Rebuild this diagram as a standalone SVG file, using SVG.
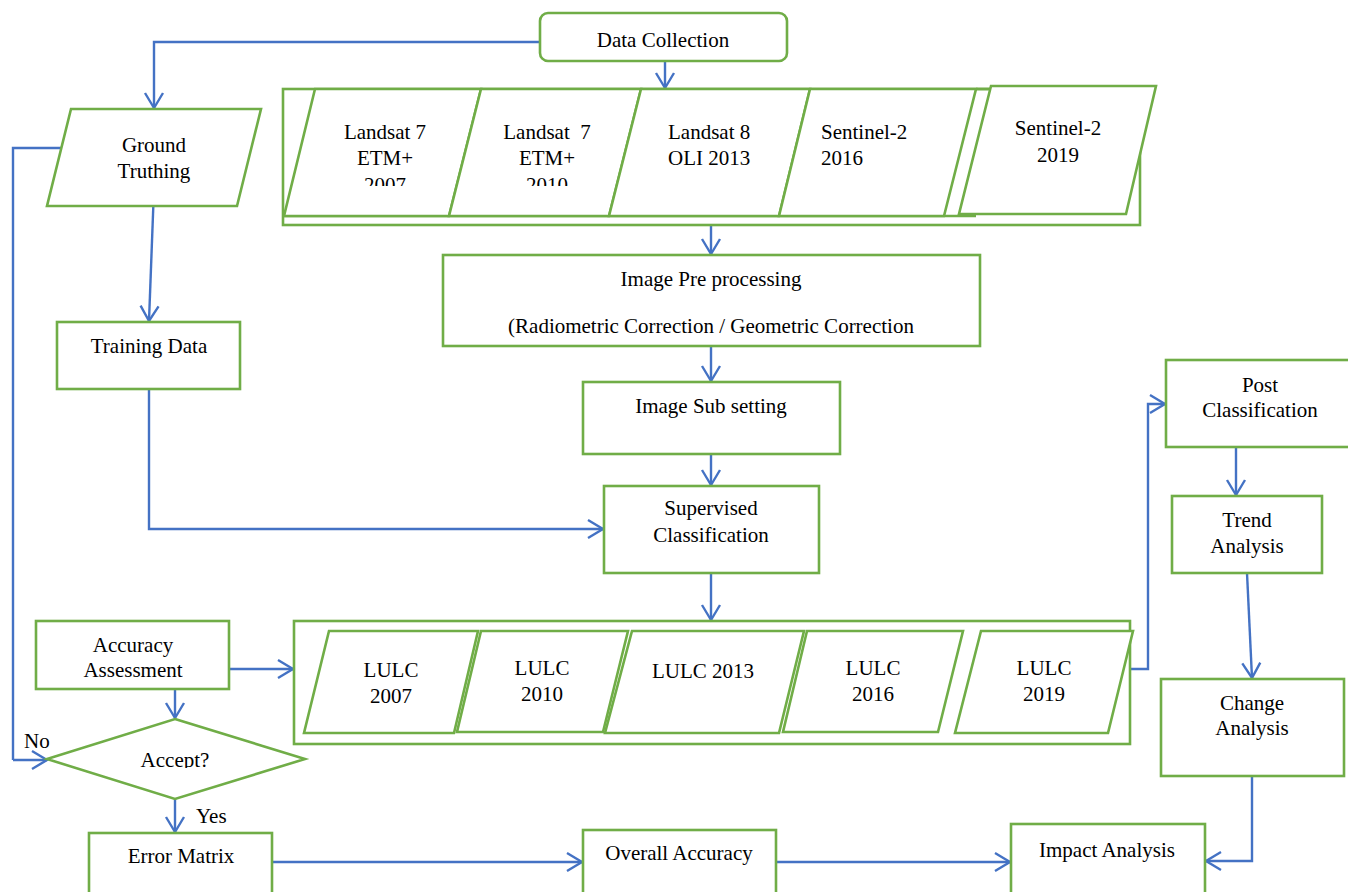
<svg xmlns="http://www.w3.org/2000/svg" width="1348" height="892" viewBox="0 0 1348 892">
<style>
.n{fill:#fff;stroke:#70AD47;stroke-width:2.6}
.g{fill:none;stroke:#70AD47;stroke-width:2.6}
.c{fill:none;stroke:#4472C4;stroke-width:2.4}
.ca{fill:none;stroke:#4472C4;stroke-width:2.4;marker-end:url(#ah)}
text{font-family:"Liberation Serif","Times New Roman",serif;font-size:21px;fill:#000}
.m{text-anchor:middle}
</style>
<defs>
<marker id="ah" markerUnits="userSpaceOnUse" markerWidth="24" markerHeight="24" viewBox="0 0 24 24" refX="19" refY="12" orient="auto">
<path d="M4,3 L19,12 L4,21" fill="none" stroke="#4472C4" stroke-width="2.4"/>
</marker>
<clipPath id="clipL"><rect x="280" y="95" width="380" height="91"/></clipPath>
<clipPath id="clipA"><rect x="40" y="715" width="270" height="53"/></clipPath>
</defs>
<rect width="1348" height="892" fill="#fff"/>

<g id="connectors">
<path class="ca" d="M540,42 H154 V108"/>
<path class="ca" d="M665,61 V88"/>
<path class="c" d="M61,148 H13 V760"/>
<path class="ca" d="M13,760 H47"/>
<path class="ca" d="M154,188 L149,321"/>
<path class="ca" d="M149,389 V529 H603"/>
<path class="ca" d="M711,226 V254"/>
<path class="ca" d="M711,346 V381"/>
<path class="ca" d="M711,454 V485"/>
<path class="ca" d="M711,573 V620"/>
<path class="ca" d="M229,669 H293"/>
<path class="ca" d="M175,689 V718"/>
<path class="ca" d="M175,799 V832"/>
<path class="ca" d="M272,862 H582"/>
<path class="ca" d="M776,862 H1010"/>
<path class="ca" d="M1130,669 H1148 V404 H1165"/>
<path class="ca" d="M1236,447 V495"/>
<path class="ca" d="M1247,573 L1252,678"/>
<path class="ca" d="M1252,776 V861 H1206"/>
</g>

<g id="data-collection">
<rect class="n" x="540" y="13" width="247" height="48" rx="8"/>
<text class="m" x="663" y="47">Data Collection</text>
</g>

<g id="satellite-images">
<rect class="g" x="283" y="89" width="857" height="136"/>
<line class="g" x1="283" y1="216" x2="976" y2="216"/>
<g id="landsat7-2007">
<polygon class="n" points="315,89 481,89 449,216 284,216"/>
<g clip-path="url(#clipL)">
<text class="m" x="385" y="139">Landsat 7</text>
<text class="m" x="385" y="165">ETM+</text>
<text class="m" x="385" y="192">2007</text>
</g>
</g>
<g id="landsat7-2010">
<polygon class="n" points="481,89 641,89 609,216 449,216"/>
<g clip-path="url(#clipL)">
<text class="m" x="547" y="139" xml:space="preserve">Landsat  7</text>
<text class="m" x="547" y="165">ETM+</text>
<text class="m" x="547" y="192">2010</text>
</g>
</g>
<g id="landsat8-2013">
<polygon class="n" points="641,89 810,89 779,216 609,216"/>
<text x="668" y="139">Landsat 8</text>
<text x="668" y="165">OLI 2013</text>
</g>
<g id="sentinel2-2016">
<polygon class="n" points="810,89 976,89 944,216 779,216"/>
<text x="821" y="139">Sentinel-2</text>
<text x="821" y="165">2016</text>
</g>
<line class="g" x1="976" y1="89" x2="992" y2="89"/>
<g id="sentinel2-2019">
<polygon class="n" points="991,86 1156,86 1126,214 959,214"/>
<text class="m" x="1058" y="135">Sentinel-2</text>
<text class="m" x="1058" y="162">2019</text>
</g>
</g>

<g id="ground-truthing">
<polygon class="n" points="71,109 261,109 237,206 47,206"/>
<text class="m" x="154" y="152">Ground</text>
<text class="m" x="154" y="178">Truthing</text>
</g>

<g id="training-data">
<rect class="n" x="57" y="322" width="183" height="67"/>
<text class="m" x="149" y="353">Training Data</text>
</g>

<g id="image-preprocessing">
<rect class="n" x="443" y="255" width="537" height="91"/>
<text class="m" x="711" y="286">Image Pre processing</text>
<text class="m" x="711" y="333">(Radiometric Correction / Geometric Correction</text>
</g>

<g id="image-subsetting">
<rect class="n" x="583" y="382" width="257" height="72"/>
<text class="m" x="711" y="413">Image Sub setting</text>
</g>

<g id="supervised-classification">
<rect class="n" x="604" y="486" width="215" height="87"/>
<text class="m" x="711" y="515">Supervised</text>
<text class="m" x="711" y="542">Classification</text>
</g>

<g id="lulc-maps">
<rect class="g" x="294" y="621" width="836" height="123"/>
<g id="lulc-2007">
<polygon class="n" points="329,631 478,631 454,733 304,733"/>
<text class="m" x="391" y="677">LULC</text>
<text class="m" x="391" y="703">2007</text>
</g>
<g id="lulc-2010">
<polygon class="n" points="481,631 628,631 603,732 457,732"/>
<text class="m" x="542" y="675">LULC</text>
<text class="m" x="542" y="701">2010</text>
</g>
<g id="lulc-2013">
<polygon class="n" points="632,631 804,631 779,733 605,733"/>
<text class="m" x="703" y="678">LULC 2013</text>
</g>
<g id="lulc-2016">
<polygon class="n" points="807,631 963,631 938,732 783,732"/>
<text class="m" x="873" y="675">LULC</text>
<text class="m" x="873" y="701">2016</text>
</g>
<g id="lulc-2019">
<polygon class="n" points="981,631 1133,631 1108,733 955,733"/>
<text class="m" x="1044" y="675">LULC</text>
<text class="m" x="1044" y="701">2019</text>
</g>
</g>

<g id="accuracy-assessment">
<rect class="n" x="36" y="621" width="193" height="68"/>
<text class="m" x="133" y="652">Accuracy</text>
<text class="m" x="133" y="677">Assessment</text>
</g>

<g id="accept">
<polygon class="n" points="175,719 305,759 175,799 47,759"/>
<text class="m" x="175" y="767" clip-path="url(#clipA)">Accept?</text>
</g>
<text x="24" y="748">No</text>
<text x="196" y="823">Yes</text>

<g id="error-matrix">
<rect class="n" x="89" y="833" width="183" height="62"/>
<text class="m" x="181" y="863">Error Matrix</text>
</g>

<g id="overall-accuracy">
<rect class="n" x="583" y="830" width="193" height="65"/>
<text class="m" x="679" y="860">Overall Accuracy</text>
</g>

<g id="impact-analysis">
<rect class="n" x="1011" y="824" width="194" height="71"/>
<text class="m" x="1107" y="857">Impact Analysis</text>
</g>

<g id="post-classification">
<rect class="n" x="1166" y="360" width="190" height="87"/>
<text class="m" x="1260" y="392">Post</text>
<text class="m" x="1260" y="417">Classification</text>
</g>

<g id="trend-analysis">
<rect class="n" x="1172" y="496" width="150" height="77"/>
<text class="m" x="1247" y="527">Trend</text>
<text class="m" x="1247" y="553">Analysis</text>
</g>

<g id="change-analysis">
<rect class="n" x="1161" y="679" width="183" height="97"/>
<text class="m" x="1252" y="710">Change</text>
<text class="m" x="1252" y="735">Analysis</text>
</g>
</svg>
